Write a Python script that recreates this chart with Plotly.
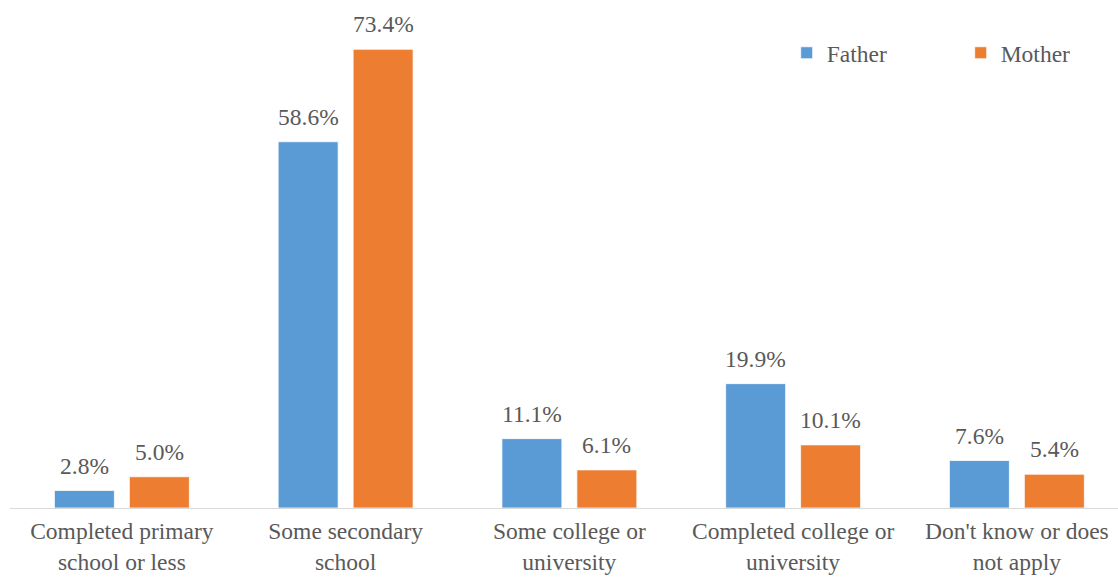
import plotly.graph_objects as go

categories = ["Completed primary<br>school or less", "Some secondary<br>school", "Some college or<br>university",
              "Completed college or<br>university", "Don't know or does<br>not apply"]
father = [2.8, 58.6, 11.1, 19.9, 7.6]
mother = [5.0, 73.4, 6.1, 10.1, 5.4]

FONT = "Liberation Serif"
TXT = "#595959"
BLUE = "#5B9BD5"
ORANGE = "#ED7D31"

fig = go.Figure()
fig.add_trace(go.Bar(name="Father", x=categories, y=father, marker=dict(color=BLUE, line=dict(color="white", width=0.75))))
fig.add_trace(go.Bar(name="Mother", x=categories, y=mother, marker=dict(color=ORANGE, line=dict(color="white", width=0.75))))

annotations = []
for vals, shift in ((father, -37.5), (mother, 37.5)):
    for c, v in zip(categories, vals):
        annotations.append(dict(x=c, y=v, xref="x", yref="y", text=f"{v:.1f}%", showarrow=False,
                                xshift=shift, yshift=10, yanchor="bottom",
                                font=dict(family=FONT, size=23.5, color=TXT)))

fig.update_layout(
    width=1118, height=577,
    margin=dict(l=10, r=0, t=0, b=69, autoexpand=False),
    paper_bgcolor="white", plot_bgcolor="white",
    barmode="group", bargap=0.33, bargroupgap=0.2,
    font=dict(family=FONT, size=23.5, color=TXT),
    showlegend=True,
    legend=dict(orientation="h", x=0.701, y=0.939, xanchor="left", yanchor="top",
                entrywidth=129, font=dict(family=FONT, size=23.5, color=TXT),
                bgcolor="rgba(0,0,0,0)"),
    annotations=annotations,
)
fig.update_xaxes(range=[-0.5, 4.452], showline=True, linecolor="#D9D9D9", linewidth=1, automargin=False,
                 ticks="", ticklabelstandoff=2, showgrid=False, zeroline=False,
                 tickfont=dict(family=FONT, size=23.5, color=TXT))
fig.update_yaxes(range=[0, 81.28], visible=False, showgrid=False, zeroline=False, automargin=False)

fig.write_html("out.html")
